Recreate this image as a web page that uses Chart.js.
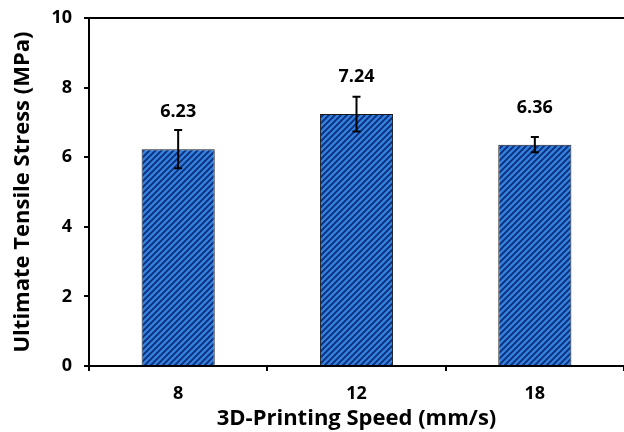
<!DOCTYPE html>
<html>
<head>
<meta charset="utf-8">
<script src="https://cdn.jsdelivr.net/npm/chart.js@4/dist/chart.umd.min.js"></script>
<style>
  html, body { margin: 0; padding: 0; background: #fff; overflow: hidden; }
  #wrap { width: 624px; height: 432px; position: relative; }
</style>
</head>
<body>
<div id="wrap"><canvas id="chart"></canvas></div>
<script>
// data
const speeds = ['8', '12', '18'];
const stress = [6.23, 7.24, 6.36];
const stressErr = [0.55, 0.5, 0.22];
const stressLabels = ['6.23', '7.24', '6.36'];
const yTickValues = [0, 2, 4, 6, 8, 10];

const FONT = "'Open Sans', 'DejaVu Sans', sans-serif";

// diagonal hatch like the excel fill
function makeHatch() {
  const c = document.createElement('canvas');
  c.width = 6; c.height = 6;
  const g = c.getContext('2d');
  g.fillStyle = '#3380dc';
  g.fillRect(0, 0, 6, 6);
  g.strokeStyle = '#0b2d7a';
  g.lineWidth = 1.8;
  g.beginPath();
  g.moveTo(-1, 7); g.lineTo(7, -1);
  g.moveTo(-4, 4); g.lineTo(4, -4);
  g.moveTo(2, 10); g.lineTo(10, 2);
  g.stroke();
  return g.createPattern(c, 'repeat');
}

const errorBars = {
  id: 'errorBars',
  afterDatasetsDraw(chart) {
    const meta = chart.getDatasetMeta(0);
    const y = chart.scales.y;
    const ctx = chart.ctx;
    ctx.save();
    ctx.strokeStyle = '#000';
    ctx.lineWidth = 2;
    meta.data.forEach((bar, i) => {
      const top = y.getPixelForValue(stress[i] + stressErr[i]);
      const bot = y.getPixelForValue(stress[i] - stressErr[i]);
      ctx.beginPath();
      ctx.moveTo(bar.x, top); ctx.lineTo(bar.x, bot);
      ctx.moveTo(bar.x - 4, top); ctx.lineTo(bar.x + 4, top);
      ctx.moveTo(bar.x - 4, bot); ctx.lineTo(bar.x + 4, bot);
      ctx.stroke();
    });
    // value labels above the bars
    ctx.fillStyle = '#000';
    ctx.font = 'bold 18px ' + FONT;
    ctx.textAlign = 'center';
    ctx.textBaseline = 'middle';
    meta.data.forEach((bar, i) => {
      ctx.fillText(stressLabels[i], bar.x, bar.y - 37);
    });
    // top frame line
    const a = chart.chartArea;
    ctx.beginPath();
    ctx.moveTo(a.left - 5, a.top);
    ctx.lineTo(chart.width, a.top);
    ctx.stroke();
    ctx.restore();
  }
};

new Chart(document.getElementById('chart'), {
  type: 'bar',
  data: {
    labels: speeds,
    datasets: [{
      data: stress,
      backgroundColor: makeHatch(),
      borderColor: '#1a1a1a',
      borderWidth: 1,
      barPercentage: 0.82,
      categoryPercentage: 0.5
    }]
  },
  options: {
    responsive: true,
    maintainAspectRatio: false,
    animation: false,
    layout: { padding: { top: 18, right: 0, left: 0, bottom: 0 } },
    plugins: {
      legend: { display: false },
      tooltip: { enabled: false }
    },
    scales: {
      x: {
        afterFit: (s) => { s.height = 66; },
        grid: { display: true, drawOnChartArea: false, drawTicks: true, tickLength: 5, color: '#000', lineWidth: 2 },
        border: { display: true, color: '#000', width: 2 },
        ticks: { color: '#000', font: { family: FONT, size: 18, weight: 'bold' }, padding: 12 },
        title: {
          display: true,
          text: '3D-Printing Speed (mm/s)',
          color: '#000',
          font: { family: FONT, size: 22, weight: 'bold' },
          padding: { top: 0, bottom: 0 }
        }
      },
      y: {
        min: 0,
        max: 10,
        afterFit: (s) => { s.width = 89; s.paddingTop = 0; s.paddingBottom = 0; },
        afterBuildTicks: (s) => { s.ticks = yTickValues.map(v => ({ value: v })); },
        grid: { display: true, drawOnChartArea: false, drawTicks: true, tickLength: 5, color: '#000', lineWidth: 2 },
        border: { display: true, color: '#000', width: 2 },
        ticks: { color: '#000', font: { family: FONT, size: 18, weight: 'bold', lineHeight: 1 }, padding: 12 },
        title: {
          display: true,
          text: 'Ultimate Tensile Stress (MPa)',
          color: '#000',
          font: { family: FONT, size: 22, weight: 'bold' },
          padding: { top: 10, bottom: 0 }
        }
      }
    }
  },
  plugins: [errorBars]
});
</script>
</body>
</html>
